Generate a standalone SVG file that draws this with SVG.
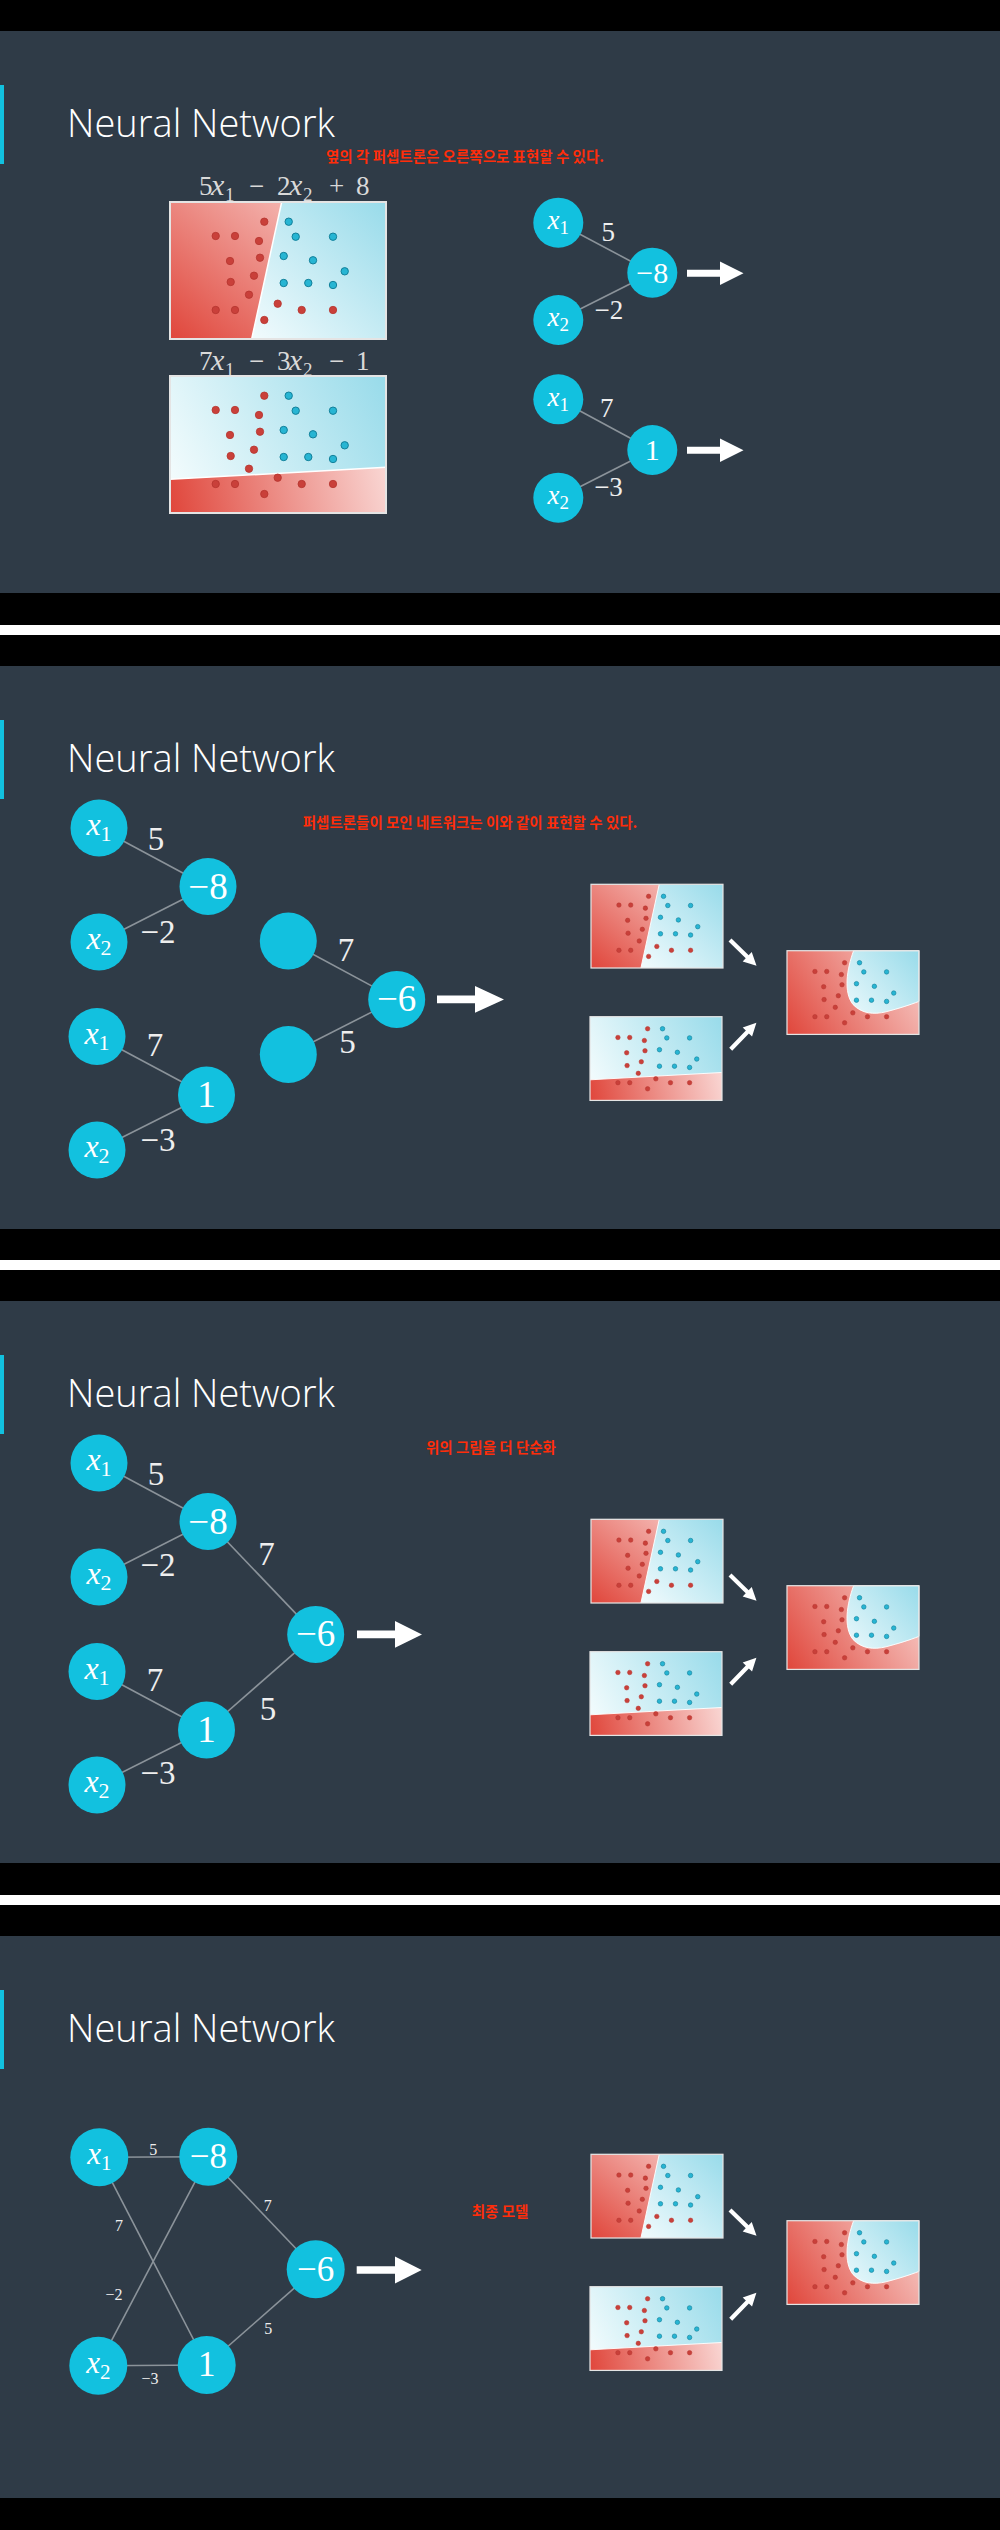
<svg xmlns="http://www.w3.org/2000/svg" xmlns:xlink="http://www.w3.org/1999/xlink" width="1000" height="2530" viewBox="0 0 1000 2530">
<style>
.bg{fill:#2f3b47}
.title{font-family:"Open Sans","Liberation Sans",sans-serif;font-weight:300;font-size:38px;fill:#ffffff}
.note{font-family:"Noto Sans CJK KR","Noto Sans CJK SC",sans-serif;font-weight:700;font-size:14.5px;fill:#ff2d0a;text-anchor:middle}
.node{fill:#12c1df}
.edge{stroke:#8b939a;stroke-width:1.6;fill:none}
.nt{font-family:"Liberation Serif","DejaVu Serif",serif;fill:#ffffff;text-anchor:middle}
.lbl{font-family:"Liberation Serif","DejaVu Serif",serif;fill:#eeeeee;text-anchor:middle}
.fml{font-family:"Liberation Serif","DejaVu Serif",serif;fill:#d9d9d9;font-size:27px}
.arrow{fill:#ffffff}
.accent{fill:#12c1df}
.rd{fill:#c9403a;stroke:#b5352f;stroke-width:0.8}
.bd{fill:#27b5d3;stroke:#13809a;stroke-width:1}
.frame{fill:none;stroke:#e4e4e4;stroke-width:2}
</style>
<defs>
<linearGradient id="gRedA" gradientUnits="userSpaceOnUse" x1="0" y1="137" x2="112" y2="0"><stop offset="0" stop-color="#e0463b"/><stop offset="1" stop-color="#f3b2ad"/></linearGradient>
<linearGradient id="gBlueA" gradientUnits="userSpaceOnUse" x1="82" y1="137" x2="216" y2="0"><stop offset="0" stop-color="#f2fbfd"/><stop offset="1" stop-color="#98dbea"/></linearGradient>
<linearGradient id="gRedB" gradientUnits="userSpaceOnUse" x1="0" y1="137" x2="216" y2="92"><stop offset="0" stop-color="#e0463b"/><stop offset="1" stop-color="#f9d6d3"/></linearGradient>
<linearGradient id="gBlueB" gradientUnits="userSpaceOnUse" x1="0" y1="110" x2="216" y2="0"><stop offset="0" stop-color="#f4fcfd"/><stop offset="1" stop-color="#98dbea"/></linearGradient>
<linearGradient id="gRedC" gradientUnits="userSpaceOnUse" x1="0" y1="137" x2="216" y2="0"><stop offset="0" stop-color="#e0463b"/><stop offset="1" stop-color="#f8d2ce"/></linearGradient>
<linearGradient id="gBlueC" gradientUnits="userSpaceOnUse" x1="100" y1="100" x2="216" y2="0"><stop offset="0" stop-color="#e9f8fb"/><stop offset="1" stop-color="#98dbea"/></linearGradient>
<g id="dots">
<circle class="rd" cx="94.3" cy="19.7" r="3.7"/><circle class="rd" cx="45.7" cy="34" r="3.7"/><circle class="rd" cx="65" cy="34" r="3.7"/><circle class="rd" cx="89" cy="39" r="3.7"/><circle class="rd" cx="60" cy="59" r="3.7"/><circle class="rd" cx="90" cy="55.7" r="3.7"/><circle class="rd" cx="60.7" cy="80" r="3.7"/><circle class="rd" cx="84" cy="73.7" r="3.7"/><circle class="rd" cx="79" cy="92.7" r="3.7"/><circle class="rd" cx="45.7" cy="108" r="3.7"/><circle class="rd" cx="65" cy="108" r="3.7"/><circle class="rd" cx="94.3" cy="118" r="3.7"/><circle class="rd" cx="107.7" cy="101.7" r="3.7"/><circle class="rd" cx="131.7" cy="108" r="3.7"/><circle class="rd" cx="163" cy="108" r="3.7"/>
<circle class="bd" cx="118.7" cy="19.7" r="3.7"/><circle class="bd" cx="125.7" cy="34.7" r="3.7"/><circle class="bd" cx="163" cy="34.7" r="3.7"/><circle class="bd" cx="113.7" cy="54" r="3.7"/><circle class="bd" cx="143" cy="58.3" r="3.7"/><circle class="bd" cx="174.7" cy="69.3" r="3.7"/><circle class="bd" cx="113.7" cy="81" r="3.7"/><circle class="bd" cx="138.3" cy="81" r="3.7"/><circle class="bd" cx="163" cy="83" r="3.7"/>
</g>
<g id="plotA">
<rect width="216" height="137" fill="url(#gBlueA)"/>
<polygon points="0,0 111.7,0 81.7,137 0,137" fill="url(#gRedA)"/>
<line x1="111.7" y1="0" x2="81.7" y2="137" stroke="#ffffff" stroke-width="1.5"/>
<use href="#dots"/>
<rect class="frame" width="216" height="137"/>
</g>
<g id="plotB">
<rect width="216" height="137" fill="url(#gBlueB)"/>
<polygon points="0,103.3 216,91.3 216,137 0,137" fill="url(#gRedB)"/>
<line x1="0" y1="103.3" x2="216" y2="91.3" stroke="#ffffff" stroke-width="1.5"/>
<use href="#dots"/>
<rect class="frame" width="216" height="137"/>
</g>
<g id="plotC">
<rect width="216" height="137" fill="url(#gRedC)"/>
<path d="M109,0 C98,30 92,68 108,88 C122,103 142,105 162,100 C185,94 200,89 216,83 L216,0 Z" fill="url(#gBlueC)" stroke="#ffffff" stroke-width="1.5"/>
<use href="#dots"/>
<rect class="frame" width="216" height="137"/>
</g>
</defs>

<rect x="0" y="0" width="1000" height="2530" fill="#000000"/>
<rect x="0" y="625" width="1000" height="10" fill="#ffffff"/>
<rect x="0" y="1260" width="1000" height="10" fill="#ffffff"/>
<rect x="0" y="1895" width="1000" height="10" fill="#ffffff"/>
<rect class="bg" x="0" y="31" width="1000" height="562"/>
<rect class="bg" x="0" y="666" width="1000" height="563"/>
<rect class="bg" x="0" y="1301" width="1000" height="562"/>
<rect class="bg" x="0" y="1936" width="1000" height="562"/>

<!-- Panel 1 -->
<g id="panel1">
<rect class="accent" x="0" y="85" width="4" height="79"/>
<text class="title" x="67" y="136.5">Neural Network</text>
<text class="note" x="465" y="162">옆의 각 퍼셉트론은 오른쪽으로 표현할 수 있다.</text>
<g id="p1-formula1" class="fml">
<text y="195"><tspan x="199">5</tspan><tspan x="211" font-style="italic" font-size="30">x</tspan><tspan x="225" y="201" font-size="19">1</tspan><tspan x="249" y="195">−</tspan><tspan x="277" y="195">2</tspan><tspan x="289" font-style="italic" font-size="30">x</tspan><tspan x="303" y="201" font-size="19">2</tspan><tspan x="329" y="195">+</tspan><tspan x="356" y="195">8</tspan></text>
</g>
<g id="p1-formula2" class="fml">
<text y="370"><tspan x="199">7</tspan><tspan x="211" font-style="italic" font-size="30">x</tspan><tspan x="225" y="376" font-size="19">1</tspan><tspan x="249" y="370">−</tspan><tspan x="277" y="370">3</tspan><tspan x="289" font-style="italic" font-size="30">x</tspan><tspan x="303" y="376" font-size="19">2</tspan><tspan x="329" y="370">−</tspan><tspan x="356" y="370">1</tspan></text>
</g>
<g id="p1-plotA"><use href="#plotA" transform="translate(170,202)"/></g>
<g id="p1-plotB"><use href="#plotB" transform="translate(170,376)"/></g>
<g id="p1-connectors">
<line class="edge" x1="558.3" y1="222.7" x2="652.3" y2="272.7"/>
<line class="edge" x1="558.3" y1="320" x2="652.3" y2="272.7"/>
<line class="edge" x1="558.3" y1="399.3" x2="652.3" y2="450"/>
<line class="edge" x1="558.3" y1="497.7" x2="652.3" y2="450"/>
<path class="arrow" d="M687,269.8 H720 V261.5 L743.5,273.3 L720,285.1 V276.8 H687 Z"/>
<path class="arrow" d="M687,446.7 H720 V438.4 L743.5,450.2 L720,462 V453.7 H687 Z"/>
<text class="lbl" font-size="27" x="608.3" y="240.6">5</text>
<text class="lbl" font-size="27" x="608.8" y="319">−2</text>
<text class="lbl" font-size="27" x="606.7" y="417">7</text>
<text class="lbl" font-size="27" x="608.5" y="496">−3</text>
</g>
<g id="p1-n-x1a"><circle class="node" cx="558.3" cy="222.7" r="25"/><text class="nt" x="558.3" y="229" font-size="27"><tspan font-style="italic">x</tspan><tspan font-size="19" dy="5">1</tspan></text></g>
<g id="p1-n-x2a"><circle class="node" cx="558.3" cy="320" r="25"/><text class="nt" x="558.3" y="326.3" font-size="27"><tspan font-style="italic">x</tspan><tspan font-size="19" dy="5">2</tspan></text></g>
<g id="p1-n-m8"><circle class="node" cx="652.3" cy="272.7" r="25"/><text class="nt" x="652.3" y="282.6" font-size="30">−8</text></g>
<g id="p1-n-x1b"><circle class="node" cx="558.3" cy="399.3" r="25"/><text class="nt" x="558.3" y="405.6" font-size="27"><tspan font-style="italic">x</tspan><tspan font-size="19" dy="5">1</tspan></text></g>
<g id="p1-n-x2b"><circle class="node" cx="558.3" cy="497.7" r="25"/><text class="nt" x="558.3" y="504" font-size="27"><tspan font-style="italic">x</tspan><tspan font-size="19" dy="5">2</tspan></text></g>
<g id="p1-n-1"><circle class="node" cx="652.3" cy="450" r="25"/><text class="nt" x="652.3" y="459.9" font-size="30">1</text></g>
</g>

<!-- Panel 2 -->
<g id="panel2" transform="translate(0,666)">
<rect class="accent" x="0" y="54" width="4" height="79"/>
<text class="title" x="67" y="105.5">Neural Network</text>
<text class="note" x="470" y="162">퍼셉트론들이 모인 네트워크는 이와 같이 표현할 수 있다.</text>
<g id="p2-connectors">
<line class="edge" x1="99" y1="162" x2="208" y2="220.5"/>
<line class="edge" x1="99" y1="276" x2="208" y2="220.5"/>
<line class="edge" x1="97" y1="370.5" x2="206.5" y2="429"/>
<line class="edge" x1="97" y1="484" x2="206.5" y2="429"/>
<line class="edge" x1="288.3" y1="275" x2="396.7" y2="333.4"/>
<line class="edge" x1="288.3" y1="388.5" x2="396.7" y2="333.4"/>
<path class="arrow" d="M437,329.6 H475 V320 L504,333.4 L475,346.8 V337.2 H437 Z"/>
<path class="arrow" d="M0,-2.1 H24 V-6.5 L37,0 L24,6.5 V2.1 H0 Z" transform="translate(730,274) rotate(44.2)"/>
<path class="arrow" d="M0,-2.1 H24 V-6.5 L37,0 L24,6.5 V2.1 H0 Z" transform="translate(730.7,383.3) rotate(-46)"/>
<text class="lbl" font-size="33" x="156" y="184">5</text>
<text class="lbl" font-size="33" x="158" y="277">−2</text>
<text class="lbl" font-size="33" x="155" y="390">7</text>
<text class="lbl" font-size="33" x="158" y="485">−3</text>
<text class="lbl" font-size="33" x="346" y="295">7</text>
<text class="lbl" font-size="33" x="347.6" y="387">5</text>
</g>
<g id="p2-n-x1a"><circle class="node" cx="99" cy="162" r="28.5"/><text class="nt" x="99" y="169.4" font-size="32"><tspan font-style="italic">x</tspan><tspan font-size="22" dy="6">1</tspan></text></g>
<g id="p2-n-m8"><circle class="node" cx="208" cy="220.5" r="28.5"/><text class="nt" x="208" y="232.5" font-size="37">−8</text></g>
<g id="p2-n-x2a"><circle class="node" cx="99" cy="276" r="28.5"/><text class="nt" x="99" y="283.4" font-size="32"><tspan font-style="italic">x</tspan><tspan font-size="22" dy="6">2</tspan></text></g>
<g id="p2-n-x1b"><circle class="node" cx="97" cy="370.5" r="28.5"/><text class="nt" x="97" y="377.9" font-size="32"><tspan font-style="italic">x</tspan><tspan font-size="22" dy="6">1</tspan></text></g>
<g id="p2-n-1"><circle class="node" cx="206.5" cy="429" r="28.5"/><text class="nt" x="206.5" y="441" font-size="37">1</text></g>
<g id="p2-n-x2b"><circle class="node" cx="97" cy="484" r="28.5"/><text class="nt" x="97" y="491.4" font-size="32"><tspan font-style="italic">x</tspan><tspan font-size="22" dy="6">2</tspan></text></g>
<g id="p2-n-e1"><circle class="node" cx="288.3" cy="275" r="28.5"/></g>
<g id="p2-n-e2"><circle class="node" cx="288.3" cy="388.5" r="28.5"/></g>
<g id="p2-n-m6"><circle class="node" cx="396.7" cy="333.4" r="28.5"/><text class="nt" x="396.7" y="345.4" font-size="37">−6</text></g>
<g id="p2-plotA"><use href="#plotA" transform="translate(591,218.3) scale(0.611)"/></g>
<g id="p2-plotB"><use href="#plotB" transform="translate(590,350.7) scale(0.611)"/></g>
<g id="p2-plotC"><use href="#plotC" transform="translate(787,284.7) scale(0.611)"/></g>
</g>

<!-- Panel 3 -->
<g id="panel3" transform="translate(0,1301)">
<rect class="accent" x="0" y="54" width="4" height="79"/>
<text class="title" x="67" y="105.5">Neural Network</text>
<text class="note" x="491" y="152">위의 그림을 더 단순화</text>
<g id="p3-connectors">
<line class="edge" x1="99" y1="162" x2="208" y2="220.5"/>
<line class="edge" x1="99" y1="276" x2="208" y2="220.5"/>
<line class="edge" x1="97" y1="370.5" x2="206.5" y2="429"/>
<line class="edge" x1="97" y1="484" x2="206.5" y2="429"/>
<line class="edge" x1="208" y1="220.5" x2="315.7" y2="333.4"/>
<line class="edge" x1="206.5" y1="429" x2="315.7" y2="333.4"/>
<path class="arrow" d="M357,329.6 H395 V320 L422,333.4 L395,346.8 V337.2 H357 Z"/>
<path class="arrow" d="M0,-2.1 H24 V-6.5 L37,0 L24,6.5 V2.1 H0 Z" transform="translate(730,274) rotate(44.2)"/>
<path class="arrow" d="M0,-2.1 H24 V-6.5 L37,0 L24,6.5 V2.1 H0 Z" transform="translate(730.7,383.3) rotate(-46)"/>
<text class="lbl" font-size="33" x="156" y="183.7">5</text>
<text class="lbl" font-size="33" x="158" y="274.8">−2</text>
<text class="lbl" font-size="33" x="266.6" y="264">7</text>
<text class="lbl" font-size="33" x="155" y="389.6">7</text>
<text class="lbl" font-size="33" x="267.9" y="419">5</text>
<text class="lbl" font-size="33" x="158" y="483">−3</text>
</g>
<g id="p3-n-x1a"><circle class="node" cx="99" cy="162" r="28.5"/><text class="nt" x="99" y="169.4" font-size="32"><tspan font-style="italic">x</tspan><tspan font-size="22" dy="6">1</tspan></text></g>
<g id="p3-n-m8"><circle class="node" cx="208" cy="220.5" r="28.5"/><text class="nt" x="208" y="232.5" font-size="37">−8</text></g>
<g id="p3-n-x2a"><circle class="node" cx="99" cy="276" r="28.5"/><text class="nt" x="99" y="283.4" font-size="32"><tspan font-style="italic">x</tspan><tspan font-size="22" dy="6">2</tspan></text></g>
<g id="p3-n-x1b"><circle class="node" cx="97" cy="370.5" r="28.5"/><text class="nt" x="97" y="377.9" font-size="32"><tspan font-style="italic">x</tspan><tspan font-size="22" dy="6">1</tspan></text></g>
<g id="p3-n-1"><circle class="node" cx="206.5" cy="429" r="28.5"/><text class="nt" x="206.5" y="441" font-size="37">1</text></g>
<g id="p3-n-x2b"><circle class="node" cx="97" cy="484" r="28.5"/><text class="nt" x="97" y="491.4" font-size="32"><tspan font-style="italic">x</tspan><tspan font-size="22" dy="6">2</tspan></text></g>
<g id="p3-n-m6"><circle class="node" cx="315.7" cy="333.4" r="28.5"/><text class="nt" x="315.7" y="345.4" font-size="37">−6</text></g>
<g id="p3-plotA"><use href="#plotA" transform="translate(591,218.3) scale(0.611)"/></g>
<g id="p3-plotB"><use href="#plotB" transform="translate(590,350.7) scale(0.611)"/></g>
<g id="p3-plotC"><use href="#plotC" transform="translate(787,284.7) scale(0.611)"/></g>
</g>

<!-- Panel 4 -->
<g id="panel4" transform="translate(0,1936)">
<rect class="accent" x="0" y="54" width="4" height="79"/>
<text class="title" x="67" y="105.5">Neural Network</text>
<text class="note" x="500" y="281">최종 모델</text>
<g id="p4-connectors">
<line class="edge" x1="99.3" y1="221.3" x2="208.3" y2="220.7"/>
<line class="edge" x1="98.3" y1="429.7" x2="206.7" y2="429"/>
<line class="edge" x1="99.3" y1="221.3" x2="206.7" y2="429"/>
<line class="edge" x1="98.3" y1="429.7" x2="208.3" y2="220.7"/>
<line class="edge" x1="208.3" y1="220.7" x2="315.7" y2="333.3"/>
<line class="edge" x1="206.7" y1="429" x2="315.7" y2="333.3"/>
<path class="arrow" d="M356.7,330.2 H395 V320.6 L421.7,334 L395,347.4 V337.8 H356.7 Z"/>
<path class="arrow" d="M0,-2.1 H24 V-6.5 L37,0 L24,6.5 V2.1 H0 Z" transform="translate(730,274) rotate(44.2)"/>
<path class="arrow" d="M0,-2.1 H24 V-6.5 L37,0 L24,6.5 V2.1 H0 Z" transform="translate(730.7,383.3) rotate(-46)"/>
<text class="lbl" font-size="16" x="153.3" y="218.6">5</text>
<text class="lbl" font-size="16" x="119" y="295.3">7</text>
<text class="lbl" font-size="16" x="114" y="364.3">−2</text>
<text class="lbl" font-size="16" x="150" y="447.6">−3</text>
<text class="lbl" font-size="16" x="267.7" y="275.3">7</text>
<text class="lbl" font-size="16" x="268.3" y="397.6">5</text>
</g>
<g id="p4-n-x1"><circle class="node" cx="99.3" cy="221.3" r="29"/><text class="nt" x="99.3" y="228.4" font-size="31"><tspan font-style="italic">x</tspan><tspan font-size="21" dy="6">1</tspan></text></g>
<g id="p4-n-m8"><circle class="node" cx="208.3" cy="220.7" r="29"/><text class="nt" x="208.3" y="232" font-size="35">−8</text></g>
<g id="p4-n-x2"><circle class="node" cx="98.3" cy="429.7" r="29"/><text class="nt" x="98.3" y="436.8" font-size="31"><tspan font-style="italic">x</tspan><tspan font-size="21" dy="6">2</tspan></text></g>
<g id="p4-n-1"><circle class="node" cx="206.7" cy="429" r="29"/><text class="nt" x="206.7" y="440.3" font-size="35">1</text></g>
<g id="p4-n-m6"><circle class="node" cx="315.7" cy="333.3" r="29"/><text class="nt" x="315.7" y="344.6" font-size="35">−6</text></g>
<g id="p4-plotA"><use href="#plotA" transform="translate(591,218.3) scale(0.611)"/></g>
<g id="p4-plotB"><use href="#plotB" transform="translate(590,350.7) scale(0.611)"/></g>
<g id="p4-plotC"><use href="#plotC" transform="translate(787,284.7) scale(0.611)"/></g>
</g>
</svg>
